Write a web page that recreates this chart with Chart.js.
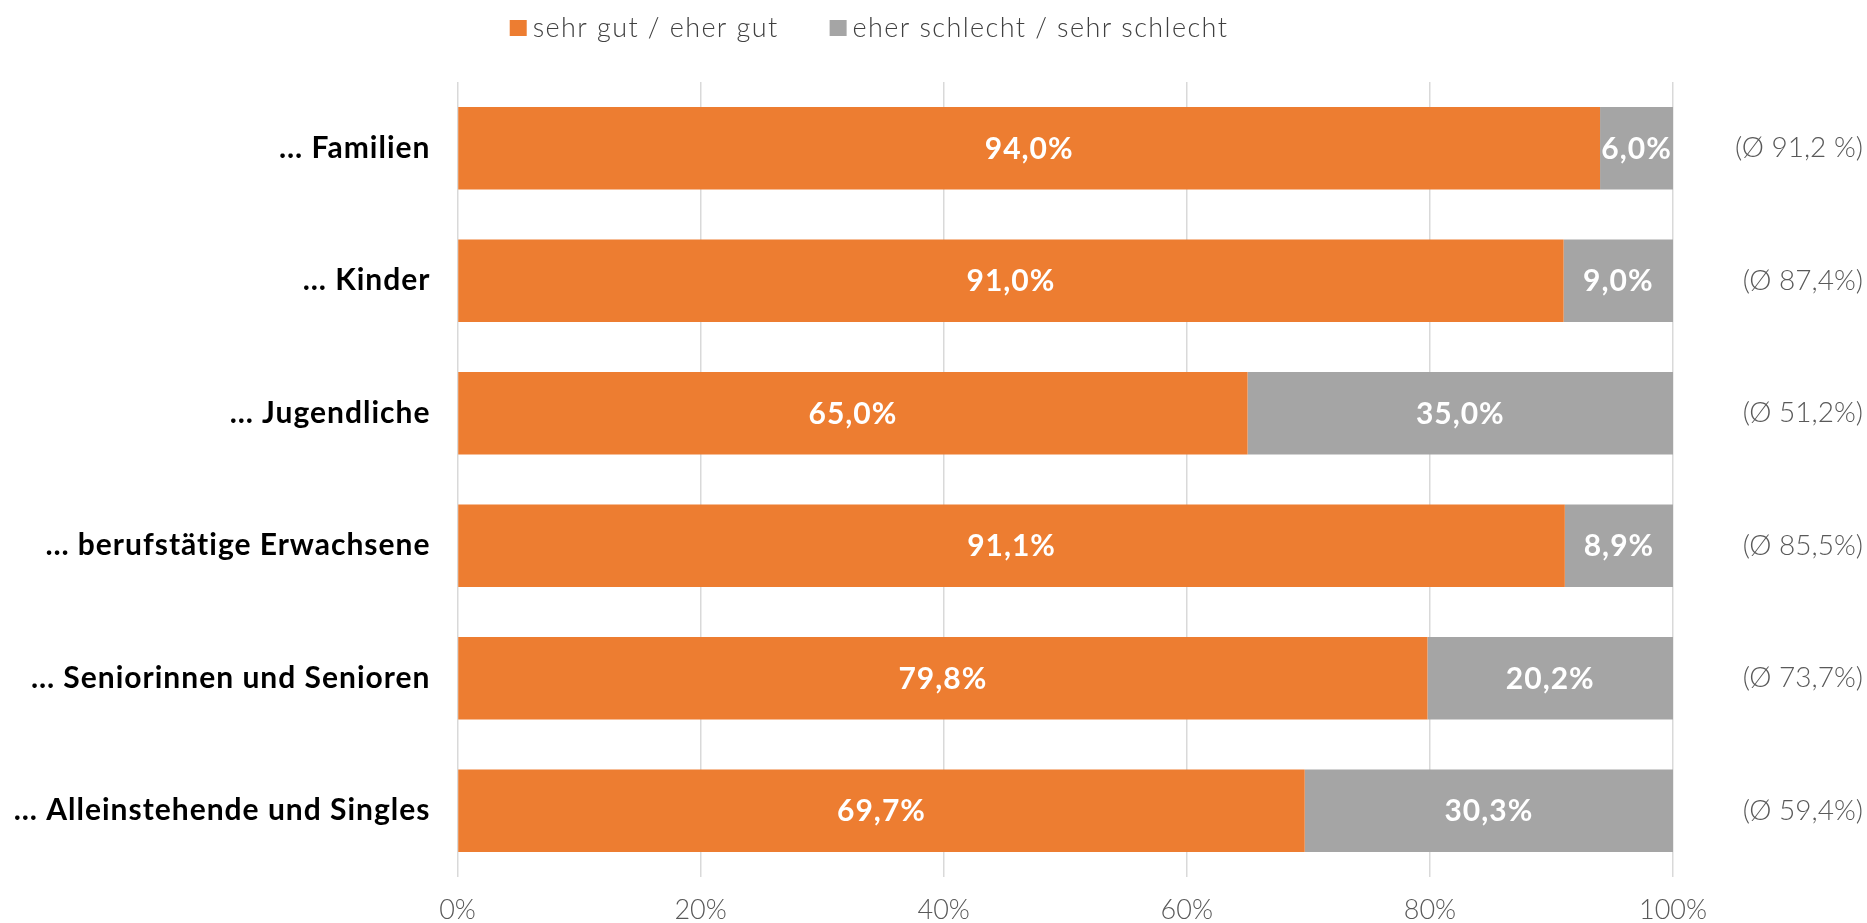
<!DOCTYPE html>
<html>
<head>
<meta charset="utf-8">
<script src="https://cdn.jsdelivr.net/npm/chart.js@4"></script>
<style>
  body { margin: 0; background: #fff; }
  #wrap { width: 1867px; height: 923px; position: relative; }
</style>
</head>
<body>
<div id="wrap"><canvas id="chart"></canvas></div>
<script>
const categories = [
    '… Familien',
    '… Kinder',
    '… Jugendliche',
    '… berufstätige Erwachsene',
    '… Seniorinnen und Senioren',
    '… Alleinstehende und Singles'
];
const averages = ['(Ø 91,2 %)', '(Ø 87,4%)', '(Ø 51,2%)', '(Ø 85,5%)', '(Ø 73,7%)', '(Ø 59,4%)'];
const good = [94.0, 91.0, 65.0, 91.1, 79.8, 69.7];
const bad = [6.0, 9.0, 35.0, 8.9, 20.2, 30.3];
const xTicks = [0, 20, 40, 60, 80, 100];

const FONT = 'Lato, "Open Sans", sans-serif';

// labels inside the bars
const barLabels = {
    id: 'barLabels',
    afterDatasetsDraw(chart) {
        const ctx = chart.ctx;
        ctx.save();
        ctx.fillStyle = '#fff';
        ctx.font = `bold 30px ${FONT}`;
        if ('letterSpacing' in ctx) ctx.letterSpacing = '1px';
        ctx.textAlign = 'center';
        ctx.textBaseline = 'middle';
        chart.data.datasets.forEach((ds, i) => {
            chart.getDatasetMeta(i).data.forEach((bar, j) => {
                const txt = ds.data[j].toFixed(1).replace('.', ',') + '%';
                ctx.fillText(txt, (bar.x + bar.base) / 2, bar.y + 1);
            });
        });
        ctx.restore();
    }
};

// the category labels (y ticks, z=1) are drawn after the datasets; widen them a bit
const wideLabels = {
    id: 'wideLabels',
    afterDatasetsDraw(chart) {
        if ('letterSpacing' in chart.ctx) chart.ctx.letterSpacing = '1px';
    },
    afterDraw(chart) {
        if ('letterSpacing' in chart.ctx) chart.ctx.letterSpacing = '0px';
    }
};

// legend at the top, drawn by hand so it can sit off-centre
const topLegend = {
    id: 'topLegend',
    afterDraw(chart) {
        const ctx = chart.ctx;
        ctx.save();
        ctx.font = `300 27px ${FONT}`;
        if ('letterSpacing' in ctx) ctx.letterSpacing = '1.4px';
        ctx.textBaseline = 'middle';
        const items = chart.data.datasets.map(d => ({ text: d.label, color: d.backgroundColor, w: ctx.measureText(d.label).width }));
        const box = 17, gap = 6, between = 51;
        const total = items.reduce((s, it) => s + box + gap + it.w, 0) + between * (items.length - 1);
        let x = 869 - total / 2;
        const y = 28;
        items.forEach(it => {
            ctx.fillStyle = it.color;
            ctx.fillRect(x, y - 8, box, 16);
            ctx.fillStyle = '#404040';
            ctx.fillText(it.text, x + box + gap, y);
            x += box + gap + it.w + between;
        });
        ctx.restore();
    }
};

new Chart(document.getElementById('chart'), {
    type: 'bar',
    data: {
        labels: categories,
        datasets: [
            { label: 'sehr gut / eher gut', data: good, backgroundColor: '#ED7D31' },
            { label: 'eher schlecht / sehr schlecht', data: bad, backgroundColor: '#A5A5A5' }
        ]
    },
    options: {
        indexAxis: 'y',
        responsive: true,
        maintainAspectRatio: false,
        animation: false,
        layout: { padding: { top: 82, right: 4, left: 0, bottom: 0 } },
        datasets: { bar: { barPercentage: 1, categoryPercentage: 0.623 } },
        plugins: {
            legend: { display: false },
            tooltip: { enabled: false }
        },
        scales: {
            x: {
                stacked: true,
                min: 0,
                max: 100,
                afterBuildTicks: scale => { scale.ticks = xTicks.map(v => ({ value: v })); },
                afterFit: scale => { scale.height = 46; },
                grid: { color: '#D9D9D9', lineWidth: 1.5, drawTicks: false },
                border: { display: false },
                ticks: {
                    padding: 17,
                    color: '#595959',
                    font: { family: FONT, size: 27, weight: 300 },
                    callback: v => v + '%'
                }
            },
            y: {
                stacked: true,
                afterFit: scale => { scale.width = 457.5; },
                grid: { display: false, drawTicks: false },
                border: { display: false },
                ticks: {
                    z: 1,
                    padding: 27,
                    color: '#000',
                    font: { family: FONT, size: 30, weight: 'bold' }
                }
            },
            y2: {
                type: 'category',
                position: 'right',
                labels: averages,
                offset: true,
                afterFit: scale => { scale.width = 190; },
                grid: { display: false, drawTicks: false },
                border: { display: false },
                ticks: {
                    crossAlign: 'far',
                    color: '#595959',
                    font: { family: FONT, size: 28, weight: 300 }
                }
            }
        }
    },
    plugins: [barLabels, wideLabels, topLegend]
});
</script>
</body>
</html>
